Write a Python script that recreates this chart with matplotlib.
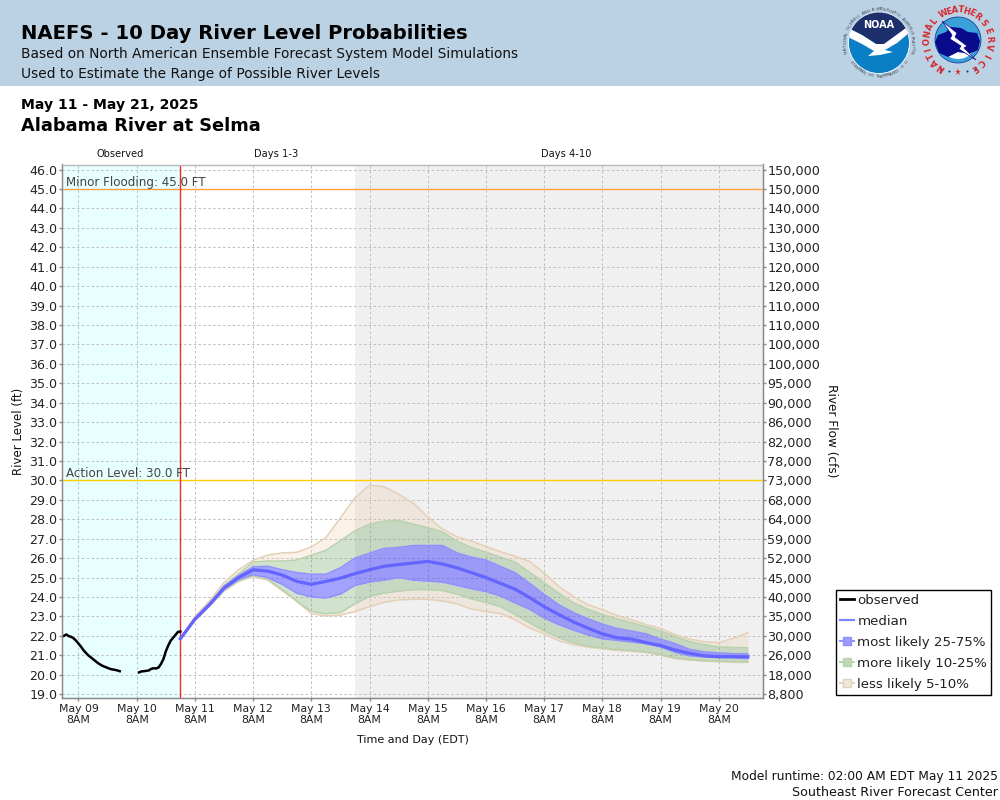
'''NAEFS 10 day river level probabilities, Alabama River at Selma'''
import numpy as np
import pandas as pd
import matplotlib
matplotlib.use('Agg')
import matplotlib.pyplot as plt
from matplotlib.lines import Line2D
from matplotlib.patches import Circle, Polygon, Rectangle, Wedge

plt.rcParams['font.family'] = ['DejaVu Sans']

# observed stage, hourly from May 09 2AM, None = missing
observed = [22.0, 22.07, 21.98, 21.95, 21.87, 21.75, 21.6, 21.45, 21.27, 21.13,
            21.0, 20.9, 20.8, 20.7, 20.6, 20.52, 20.45, 20.4, 20.35, 20.3,
            20.27, 20.25, 20.22, 20.18, None, None, None, None, None, None, None,
            20.12, 20.17, 20.18, 20.2, 20.22, 20.3, 20.33, 20.32, 20.37,
            20.55, 20.8, 21.2, 21.5, 21.75, 21.9, 22.05, 22.2, 22.22]

# forecast bands, every 6 hours from May 11 2AM
median = [21.85, 22.85, 23.6, 24.45, 25.0, 25.4, 25.33, 25.13, 24.8, 24.65,
          24.8, 24.97, 25.2, 25.4, 25.58, 25.67, 25.75, 25.83, 25.7, 25.5,
          25.25, 25.0, 24.7, 24.4, 23.97, 23.5, 23.1, 22.72, 22.4, 22.1,
          21.9, 21.83, 21.65, 21.5, 21.27, 21.1, 20.97, 20.93, 20.93, 20.92]
p25 = [21.85, 22.83, 23.57, 24.4, 24.9, 25.15, 25.0, 24.65, 24.2, 24.0,
       23.95, 24.15, 24.6, 24.77, 24.87, 25.0, 24.87, 24.82, 24.77, 24.6,
       24.43, 24.28, 24.05, 23.7, 23.37, 22.92, 22.58, 22.3, 22.05, 21.85,
       21.77, 21.68, 21.6, 21.43, 21.15, 20.97, 20.92, 20.88, 20.87, 20.83]
p75 = [21.85, 22.9, 23.65, 24.55, 25.1, 25.55, 25.58, 25.4, 25.25, 25.17,
       25.17, 25.5, 26.0, 26.25, 26.5, 26.55, 26.65, 26.65, 26.65, 26.27,
       26.05, 25.9, 25.57, 25.25, 24.7, 24.13, 23.6, 23.2, 22.88, 22.6,
       22.38, 22.25, 22.1, 21.83, 21.6, 21.3, 21.17, 21.12, 21.08, 21.07]
p10 = [21.85, 22.82, 23.55, 24.35, 24.82, 25.1, 24.92, 24.37, 23.8, 23.27,
       23.13, 23.2, 23.65, 24.03, 24.2, 24.3, 24.38, 24.38, 24.33, 24.15,
       23.9, 23.72, 23.5, 23.1, 22.67, 22.25, 21.9, 21.65, 21.47, 21.38,
       21.3, 21.25, 21.17, 21.03, 20.87, 20.78, 20.72, 20.7, 20.67, 20.67]
p90 = [21.85, 22.92, 23.7, 24.6, 25.2, 25.8, 25.85, 25.85, 25.9, 26.15,
       26.4, 26.9, 27.4, 27.75, 27.9, 27.95, 27.75, 27.57, 27.35, 26.87,
       26.55, 26.3, 26.05, 25.8, 25.27, 24.73, 24.2, 23.7, 23.37, 23.1,
       22.88, 22.68, 22.47, 22.25, 21.97, 21.7, 21.55, 21.43, 21.4, 21.38]
p05 = [21.85, 22.8, 23.53, 24.3, 24.8, 25.05, 24.87, 24.33, 23.77, 23.15,
       23.02, 23.07, 23.25, 23.5, 23.73, 23.85, 23.88, 23.88, 23.8, 23.65,
       23.38, 23.25, 23.15, 22.83, 22.4, 22.1, 21.75, 21.55, 21.42, 21.33,
       21.25, 21.2, 21.15, 21.0, 20.83, 20.75, 20.7, 20.67, 20.63, 20.63]
p95 = [21.85, 23.0, 23.8, 24.75, 25.4, 25.9, 26.15, 26.27, 26.3, 26.58,
       27.05, 28.07, 29.1, 29.75, 29.67, 29.3, 28.83, 28.13, 27.5, 27.1,
       26.88, 26.6, 26.33, 26.1, 25.83, 25.23, 24.55, 24.03, 23.6, 23.35,
       23.05, 22.83, 22.58, 22.38, 22.07, 21.83, 21.7, 21.65, 21.87, 22.17]

stage_ticks = [19 + i for i in range(28)]
flow_labels = ['8,800', '18,000', '26,000', '30,000', '35,000', '40,000', '45,000',
               '52,000', '59,000', '64,000', '68,000', '73,000', '78,000', '82,000',
               '86,000', '90,000', '95,000', '100,000', '100,000', '110,000', '110,000',
               '120,000', '120,000', '130,000', '130,000', '140,000', '150,000', '150,000']
day_labels = ['May 09', 'May 10', 'May 11', 'May 12', 'May 13', 'May 14',
              'May 15', 'May 16', 'May 17', 'May 18', 'May 19', 'May 20']

MINOR_LEVEL = 45.0
ACTION_LEVEL = 30.0

obs_times = pd.date_range('2025-05-09 02:00', periods=len(observed), freq='h')
fc_times = pd.date_range('2025-05-11 02:00', periods=len(median), freq='6h')
day_ticks = pd.date_range('2025-05-09 08:00', periods=len(day_labels), freq='D')
now = pd.Timestamp('2025-05-11 02:00')
day3 = pd.Timestamp('2025-05-14 02:00')
x_min = pd.Timestamp('2025-05-09 01:12')
x_max = pd.Timestamp('2025-05-21 02:14')

TAN = '#ecCCa4'
GREEN = '#67a05a'
BLUE = '#4848ff'
TAN_EDGE = '#e4d0b8'
GREEN_EDGE = '#b9d2ae'
BLUE_EDGE = '#9090ff'
MEDIAN = '#6464ff'
AXIS_GRAY = '#888888'
RED_LOGO = '#d8262c'
NAVY = '#1d2f6b'
NOAA_BLUE = '#0a7fc6'

fig = plt.figure(figsize=(10, 8), dpi=100, facecolor='white')


def px_text(x, y, s, **kw):
    # text placed by pixel position, y measured from the top
    return fig.text(x / 1000, 1 - y / 800, s, **kw)


# page overlay in pixels for header band and logos
page = fig.add_axes([0, 0, 1, 1], zorder=0)
page.set_xlim(0, 1000)
page.set_ylim(800, 0)
page.axis('off')
page.add_patch(Rectangle((0, 0), 1000, 86, fc='#bbd2e5', ec='none'))


def ring_text(cx, cy, r, s, start, end, **kw):
    # one rotated text per letter, angles in degrees clockwise from north
    for ch, a in zip(s, np.linspace(start, end, len(s))):
        t = np.radians(a)
        page.text(cx + r * np.sin(t), cy - r * np.cos(t), ch, rotation=-a,
                  ha='center', va='center', **kw)


def ring_text_inv(cx, cy, r, s, start, end, **kw):
    # letters read upright along the bottom of a ring
    for ch, a in zip(s, np.linspace(start, end, len(s))):
        t = np.radians(a)
        page.text(cx + r * np.sin(t), cy - r * np.cos(t), ch, rotation=180 - a,
                  ha='center', va='center', **kw)


# NOAA logo
nx, ny = 879, 43
disc = Circle((nx, ny), 30.5, fc=NOAA_BLUE, ec='white', lw=0.6)
page.add_patch(disc)
navy = Polygon([(845, 0), (913, 0), (913, 27), (895, 36), (884, 44), (876, 44), (862, 35), (845, 26)],
               fc=NAVY, ec='none')
page.add_patch(navy)
navy.set_clip_path(disc)
bird = Polygon([(848, 28), (862, 35), (876, 44), (884, 44), (895, 36), (910, 25), (909, 33),
                (897, 43), (885, 50), (893, 52), (880, 55), (868, 56), (874, 51), (862, 44), (850, 38)],
               fc='white', ec='none')
page.add_patch(bird)
bird.set_clip_path(disc)
page.text(nx, 25, 'NOAA', color='white', fontsize=7, fontweight='bold', ha='center', va='center')
ring_text(nx, ny, 33.5, 'NATIONAL OCEANIC AND ATMOSPHERIC ADMINISTRATION', -105, 105,
          fontsize=3, color='#3c4650')
ring_text_inv(nx, ny, 33.5, 'U.S. DEPARTMENT OF COMMERCE', 125, 235, fontsize=3, color='#3c4650')

# National Weather Service logo
wx, wy = 958, 40
page.add_patch(Circle((wx, wy), 23, fc='#3aa0d8', ec='#0a2a8c', lw=0.5))
page.add_patch(Wedge((wx, wy), 19, 10, 170, fc='white', ec='none'))
page.add_patch(Polygon([(935, 42), (938, 35), (946, 32), (951, 27), (961, 28), (968, 32),
                        (977, 33), (980, 41), (978, 50), (969, 54), (958, 52), (948, 57),
                        (939, 53)], fc='#0a0a8c', ec='none'))
page.add_patch(Polygon([(942, 21), (957, 33), (955, 37), (967, 46), (964, 48), (976, 60),
                        (959, 49), (961, 46), (950, 39), (952, 35)],
                       fc='white', ec='#0a0a8c', lw=0.5))
ring_text(wx, wy + 1, 31, 'NATIONAL', -146, -50, fontsize=6, fontweight='bold', color=RED_LOGO)
ring_text(wx, wy + 1, 31, 'WEATHER', -28, 38, fontsize=6, fontweight='bold', color=RED_LOGO)
ring_text(wx, wy + 1, 31, 'SERVICE', 55, 148, fontsize=6, fontweight='bold', color=RED_LOGO)
page.plot([wx], [72], marker='*', ms=5, color=RED_LOGO, mew=0)
page.plot([wx - 9, wx + 9, wx - 17, wx + 17], [70.5, 70.5, 69, 69], ls='none', marker='o', ms=1.5,
          color='#1d2f8c', mew=0)

# main chart
ax = fig.add_axes([0.062, 1 - 698 / 800, 0.701, (698 - 164.5) / 800], zorder=2)
ax.set_facecolor('white')
ax.set_xlim(x_min, x_max)
ax.set_ylim(18.8, 46.26)

ax.axvspan(x_min, now, color='#e8ffff', lw=0, zorder=0)
ax.axvspan(day3, x_max, color='#f0f0f0', lw=0, zorder=0)
ax.grid(True, color='#bdbdbd', lw=0.7, linestyle=(0, (2.5, 2.5)), zorder=1)
ax.set_axisbelow(True)

# stacked probability bands, outer ones first
ax.fill_between(fc_times, p05, p10, color=TAN, alpha=0.25, lw=0, zorder=2)
ax.fill_between(fc_times, p90, p95, color=TAN, alpha=0.25, lw=0, zorder=2)
ax.fill_between(fc_times, p10, p25, color=GREEN, alpha=0.3, lw=0, zorder=2)
ax.fill_between(fc_times, p75, p90, color=GREEN, alpha=0.3, lw=0, zorder=2)
ax.fill_between(fc_times, p25, p75, color=BLUE, alpha=0.5, lw=0, zorder=2)
for band, col in [(p05, TAN_EDGE), (p95, TAN_EDGE), (p10, GREEN_EDGE), (p90, GREEN_EDGE),
                  (p25, BLUE_EDGE), (p75, BLUE_EDGE)]:
    ax.plot(fc_times, band, color=col, lw=1.1, zorder=3)

ax.axhline(MINOR_LEVEL, color='#ffa040', lw=1, zorder=4)
ax.axhline(ACTION_LEVEL, color='#ffcc00', lw=1, zorder=4)
ax.axvline(now, color='#f22a2a', lw=1, zorder=5)
ax.plot(fc_times, median, color=MEDIAN, lw=2.3, zorder=6)
ax.plot(obs_times, pd.to_numeric(pd.Series(observed)), color='black', lw=1.8, zorder=7)

label_x = pd.Timestamp('2025-05-09 03:00')
ax.text(label_x, MINOR_LEVEL + 0.15, f'Minor Flooding: {MINOR_LEVEL} FT',
        fontsize=8.6, color='#444444', va='baseline', zorder=8)
ax.text(label_x, ACTION_LEVEL + 0.15, f'Action Level: {ACTION_LEVEL} FT',
        fontsize=8.6, color='#444444', va='baseline', zorder=8)

ax.set_yticks(stage_ticks)
ax.set_yticklabels([f'{v:.1f}' for v in stage_ticks], fontsize=9.1, color='#222222')
ax.set_xticks(day_ticks)
ax.set_xticklabels([d + '\n8AM' for d in day_labels], fontsize=7.8, color='#222222', linespacing=1.1)
ax.tick_params(axis='x', color=AXIS_GRAY, length=2.5, width=1, pad=2)
ax.tick_params(axis='y', color=AXIS_GRAY, length=2.5, width=1, pad=0.8)

ax2 = ax.twinx()
ax2.set_ylim(ax.get_ylim())
ax2.set_yticks(stage_ticks)
ax2.set_yticklabels(flow_labels, fontsize=9.2, color='#222222')
ax2.tick_params(axis='y', color=AXIS_GRAY, length=2.5, width=1, pad=0.5)

for a in (ax, ax2):
    a.spines['left'].set_color(AXIS_GRAY)
    a.spines['right'].set_color(AXIS_GRAY)
    a.spines['bottom'].set_color(AXIS_GRAY)
    a.spines['top'].set_color('#bbbbbb')
    for s in a.spines.values():
        s.set_linewidth(0.9)

# header and labels
px_text(21, 39, 'NAEFS - 10 Day River Level Probabilities', fontsize=14.1, fontweight='bold',
        va='baseline', color='black')
px_text(21, 58, 'Based on North American Ensemble Forecast System Model Simulations', fontsize=9.95,
        va='baseline', color='#111111')
px_text(21, 78, 'Used to Estimate the Range of Possible River Levels', fontsize=9.95,
        va='baseline', color='#111111')
px_text(21, 109, 'May 11 - May 21, 2025', fontsize=10.05, fontweight='bold', va='baseline', color='black')
px_text(21, 131, 'Alabama River at Selma', fontsize=12.8, fontweight='bold', va='baseline', color='black')
px_text(120, 157, 'Observed', fontsize=7.1, ha='center', va='baseline', color='#111111')
px_text(276, 157, 'Days 1-3', fontsize=7.1, ha='center', va='baseline', color='#111111')
px_text(566, 157, 'Days 4-10', fontsize=7.1, ha='center', va='baseline', color='#111111')
px_text(18.5, 431, 'River Level (ft)', fontsize=8.5, rotation=90, ha='center', va='center', color='#111111')
px_text(831.5, 431, 'River Flow (cfs)', fontsize=8.7, rotation=-90, ha='center', va='center', color='#111111')
px_text(413, 740, 'Time and Day (EDT)', fontsize=8, ha='center', va='center', color='#111111')
px_text(998, 780, 'Model runtime: 02:00 AM EDT May 11 2025', fontsize=8.84, ha='right', va='baseline', color='#111111')
px_text(998, 796, 'Southeast River Forecast Center', fontsize=9.05, ha='right', va='baseline', color='#111111')

# legend
handles = [
    Line2D([], [], color='black', lw=2),
    Line2D([], [], color=MEDIAN, lw=1.6, alpha=0.8),
    Line2D([], [], color=BLUE_EDGE, lw=1.4, marker='s', ms=6, mfc='#9c9cfb', mec=BLUE_EDGE),
    Line2D([], [], color=GREEN_EDGE, lw=1.4, marker='s', ms=6, mfc='#c0d6ba', mec=GREEN_EDGE),
    Line2D([], [], color=TAN_EDGE, lw=1.4, marker='s', ms=6, mfc='#efe7dd', mec=TAN_EDGE),
]
labels = ['observed', 'median', 'most likely 25-75%', 'more likely 10-25%', 'less likely 5-10%']
leg = fig.legend(handles, labels, loc='lower left', bbox_to_anchor=(0.836, 1 - 695 / 800),
                 borderaxespad=0, fontsize=9.6, frameon=True, fancybox=False, framealpha=1,
                 edgecolor='black', handlelength=1.05, handletextpad=0.25, labelspacing=0.6,
                 borderpad=0.3, labelcolor='#222222')
leg.get_frame().set_linewidth(1)

fig.savefig('out.png', dpi=100)
